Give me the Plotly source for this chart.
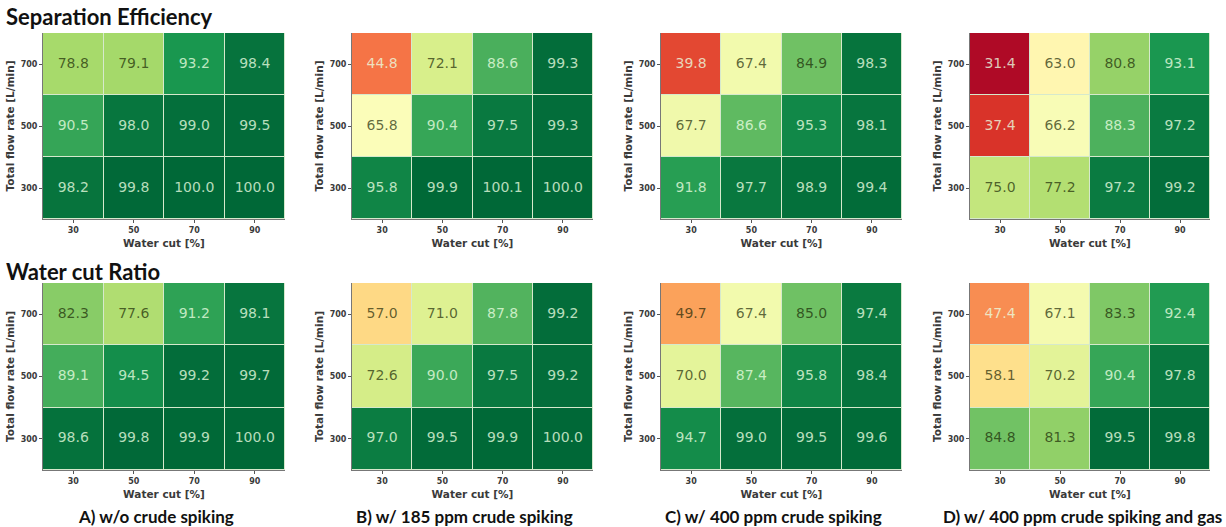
import plotly.graph_objects as go

water_cut = ["30", "50", "70", "90"]
flow_rate = ["300", "500", "700"]  # bottom to top

# rows: 300, 500, 700
se_a = [[98.2, 99.8, 100.0, 100.0], [90.5, 98.0, 99.0, 99.5], [78.8, 79.1, 93.2, 98.4]]
se_b = [[95.8, 99.9, 100.1, 100.0], [65.8, 90.4, 97.5, 99.3], [44.8, 72.1, 88.6, 99.3]]
se_c = [[91.8, 97.7, 98.9, 99.4], [67.7, 86.6, 95.3, 98.1], [39.8, 67.4, 84.9, 98.3]]
se_d = [[75.0, 77.2, 97.2, 99.2], [37.4, 66.2, 88.3, 97.2], [31.4, 63.0, 80.8, 93.1]]

wr_a = [[98.6, 99.8, 99.9, 100.0], [89.1, 94.5, 99.2, 99.7], [82.3, 77.6, 91.2, 98.1]]
wr_b = [[97.0, 99.5, 99.9, 100.0], [72.6, 90.0, 97.5, 99.2], [57.0, 71.0, 87.8, 99.2]]
wr_c = [[94.7, 99.0, 99.5, 99.6], [70.0, 87.4, 95.8, 98.4], [49.7, 67.4, 85.0, 97.4]]
wr_d = [[84.8, 81.3, 99.5, 99.8], [58.1, 70.2, 90.4, 97.8], [47.4, 67.1, 83.3, 92.4]]

row_titles = ["Separation Efficiency", "Water cut Ratio"]
panel_labels = ["A) w/o crude spiking", "B) w/ 185 ppm crude spiking",
                "C) w/ 400 ppm crude spiking", "D) w/ 400 ppm crude spiking and gas"]

panels = [se_a, se_b, se_c, se_d, wr_a, wr_b, wr_c, wr_d]

W, H = 1226, 527
x_px = [(43, 285), (352, 593), (661, 902), (970, 1210)]
y_px = [(33, 219), (283, 470)]

fig = go.Figure()
layout = dict(
    width=W, height=H,
    margin=dict(l=0, r=0, t=0, b=0),
    paper_bgcolor="white",
    plot_bgcolor="#d6e9cc",
    showlegend=False,
)

tick_font = dict(family="DejaVu Sans", size=8, color="#3a3a3a")
title_font = dict(family="DejaVu Sans", size=10.5, color="#3a3a3a")

for i, z in enumerate(panels):
    r, c = divmod(i, 4)
    idx = i + 1
    xa = "x" if idx == 1 else f"x{idx}"
    ya = "y" if idx == 1 else f"y{idx}"
    fig.add_trace(go.Heatmap(
        z=z, x=water_cut, y=flow_rate, xaxis=xa, yaxis=ya,
        colorscale="RdYlGn", zmin=30, zmax=100, showscale=False,
        xgap=1, ygap=1, hoverinfo="z",
    ))
    xs, ys, ts, cs = [], [], [], []
    for ri, fr in enumerate(flow_rate):
        for ci, wc in enumerate(water_cut):
            v = z[ri][ci]
            xs.append(wc); ys.append(fr); ts.append(f"{v:.1f}")
            light = v < 48 or v > 86
            cs.append("rgba(235,255,225,0.78)" if light else "rgba(20,30,0,0.68)")
    fig.add_trace(go.Scatter(
        x=xs, y=ys, text=ts, mode="text", xaxis=xa, yaxis=ya,
        textfont=dict(family="DejaVu Sans", size=14, color=cs),
        hoverinfo="skip",
    ))
    x0, x1 = x_px[c]
    y0, y1 = y_px[r]
    layout["xaxis" if idx == 1 else f"xaxis{idx}"] = dict(
        domain=[x0 / W, x1 / W], anchor=ya, type="category",
        categoryorder="array", categoryarray=water_cut,
        tickfont=tick_font, ticks="outside", ticklen=3, tickcolor="#555",
        showline=True, linecolor="#777", linewidth=1, mirror=False,
        showgrid=False, zeroline=False, fixedrange=True,
        title=dict(text="<b>Water cut [%]</b>", font=title_font, standoff=6),
        tickprefix="<b>", ticksuffix="</b>",
    )
    layout["yaxis" if idx == 1 else f"yaxis{idx}"] = dict(
        domain=[1 - y1 / H, 1 - y0 / H], anchor=xa, type="category",
        categoryorder="array", categoryarray=flow_rate,
        tickfont=tick_font, ticks="outside", ticklen=3, tickcolor="#555",
        showline=True, linecolor="#777", linewidth=1,
        showgrid=False, zeroline=False, fixedrange=True,
        title=dict(text="<b>Total flow rate [L/min]</b>", font=title_font, standoff=4),
        tickprefix="<b>", ticksuffix="</b>",
    )

fig.update_layout(**layout)

annotations = []
for r, t in enumerate(row_titles):
    annotations.append(dict(
        text=f"<b>{t}</b>", xref="paper", yref="paper",
        x=4 / W, y=1 - (17 if r == 0 else 271) / H, xanchor="left", yanchor="middle",
        showarrow=False, font=dict(family="Lato", size=22, color="#111111"),
    ))
for c, t in enumerate(panel_labels):
    x0, x1 = x_px[c]
    annotations.append(dict(
        text=f"<b>{t}</b>", xref="paper", yref="paper",
        x=(x0 + x1) / 2 / W - 8 / W, y=1 - 516 / H, xanchor="center", yanchor="middle",
        showarrow=False, font=dict(family="Lato", size=17, color="#111111"),
    ))
fig.update_layout(annotations=annotations)

fig.write_html("out.html", config={"displayModeBar": False})

# remove default page margin so the figure fills the window exactly
with open("out.html", "r", encoding="utf-8") as f:
    html = f.read()
html = html.replace("<head>", "<head><style>html,body{margin:0;padding:0;overflow:hidden;}</style>", 1)
with open("out.html", "w", encoding="utf-8") as f:
    f.write(html)
